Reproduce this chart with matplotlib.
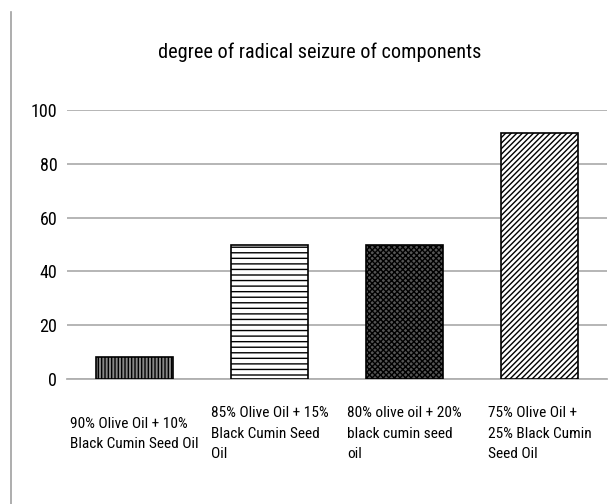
import matplotlib
matplotlib.use("Agg")
import matplotlib.pyplot as plt
from matplotlib.lines import Line2D
from matplotlib import font_manager
from matplotlib.font_manager import FontProperties

# look for a narrow/condensed sans font
narrow = None
prefs = ['liberation sans narrow', 'arial narrow', 'roboto condensed', 'open sans condensed',
         'noto sans condensed', 'dejavu sans condensed']
cands = []
for f in font_manager.fontManager.ttflist:
    fn = f.fname.lower()
    nm = f.name.lower()
    if ('narrow' in fn or 'condensed' in fn or 'narrow' in nm or 'condensed' in nm
            or str(f.stretch) in ('condensed', 'semi-condensed', 'extra-condensed')):
        if f.style == 'normal' and f.weight in (400, 'normal', 'regular'):
            cands.append(f)
def rank(f):
    key = (f.name + ' ' + f.fname).lower().replace('-', ' ').replace('_', ' ')
    for i, p in enumerate(prefs):
        if p.replace(' ', '') in key.replace(' ', ''):
            return i
    return len(prefs)
if cands:
    cands.sort(key=rank)
    narrow = cands[0].fname

if narrow:
    def fp(size):
        return FontProperties(fname=narrow, size=size)
else:
    def fp(size):
        return FontProperties(family=['Liberation Sans', 'DejaVu Sans'], size=size * 0.9)

plt.rcParams['hatch.linewidth'] = 1.0

categories = [
    "90% Olive Oil + 10%\nBlack Cumin Seed Oil",
    "85% Olive Oil + 15%\nBlack Cumin Seed\nOil",
    "80% olive oil + 20%\nblack cumin seed\noil",
    "75% Olive Oil +\n25% Black Cumin\nSeed Oil",
]
values = [8, 50, 50, 91.3]
yticks = [0, 20, 40, 60, 80, 100]
title = "degree of radical seizure of components"

fig = plt.figure(figsize=(6.09, 5.04), dpi=100)
W, H = 609, 504
ax = fig.add_axes([67 / W, 1 - 379 / H, 540 / W, 269 / H])

hatches = ['|||||', '---', 'xxxxxx', '//////']
faces = ['#888888', 'white', '#555555', 'white']
for i, (v, h, fc) in enumerate(zip(values, hatches, faces)):
    ax.bar(i, v, width=0.57, color=fc, hatch=h, edgecolor='black', linewidth=1.2, zorder=3)

ax.set_xlim(-0.5, 3.5)
ax.set_ylim(0, 100)
ax.set_yticks(yticks)
ax.set_yticklabels([str(t) for t in yticks], fontproperties=fp(13))
ax.yaxis.grid(True, color='#b0b0b0', linewidth=1.3, zorder=0)
ax.tick_params(axis='y', length=0, pad=7)
ax.tick_params(axis='x', length=0, labelbottom=False)
for s in ['top', 'right', 'left']:
    ax.spines[s].set_visible(False)
ax.spines['bottom'].set_color('#b0b0b0')
ax.spines['bottom'].set_linewidth(1.3)

for i, lab in enumerate(categories):
    ax.annotate(lab, xy=(i, 0), xycoords='data', xytext=(0, -39.5), textcoords='offset points',
                ha='center', va='center', multialignment='left', fontproperties=fp(11.1),
                linespacing=1.6)

fig.text(320 / W, 1 - 52 / H, title, ha='center', va='center', fontproperties=fp(14.6))
fig.add_artist(Line2D([11 / W, 11 / W], [0, 1 - 12 / H], color='#a0a0a0', linewidth=1.2))

fig.savefig('out.png', dpi=100)
